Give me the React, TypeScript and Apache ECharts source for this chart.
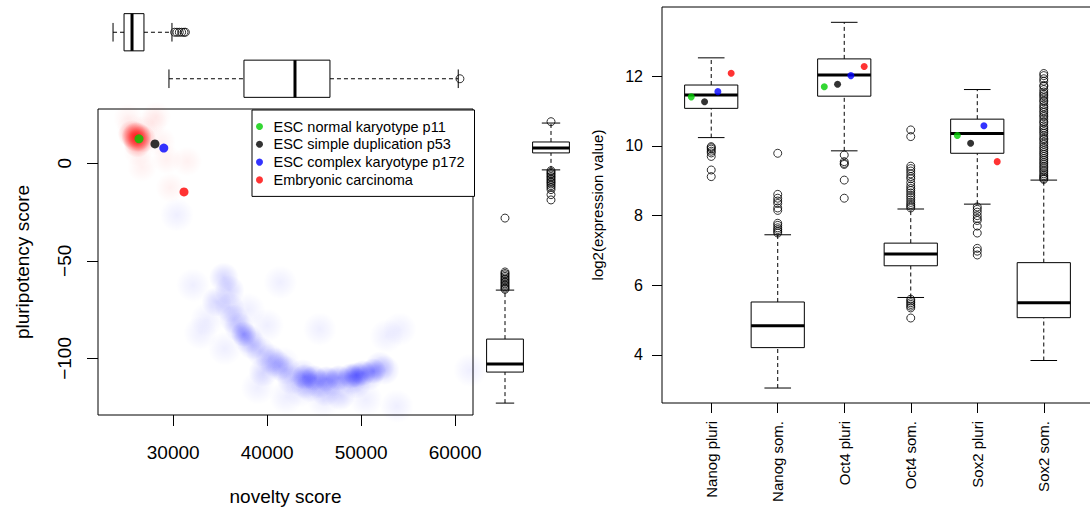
import React, { useEffect, useRef } from "react";
import * as echarts from "echarts";

const FONT = "'Liberation Sans', Arial, Helvetica, sans-serif";

// ---------- Left panel: samples ----------
const sampleNames = [
  "ESC normal karyotype p11",
  "ESC simple duplication p53",
  "ESC complex karyotype p172",
  "Embryonic carcinoma",
];
const sampleColors = ["#00cd00", "#000000", "#0000ff", "#ff0000"];
const sampleNovelty = [26360, 28060, 29000, 31150];
const samplePluri = [12.5, 9.9, 7.8, -14.7];

// density clouds (novelty, pluripotency)
const pluriCloudCore = [[26100, 13.5]];
const pluriCloudMid = [[25600, 15], [26700, 12.5], [26200, 10]];
const pluriCloudFaint = [
  [25500, 18], [26800, 17], [27800, 21], [26300, 6], [28700, 11], [29300, 2],
  [31500, 1], [26700, -2], [29700, -12.5], [25200, 23], [28200, 24],
];
const somaticCloudCore = [
  [44000, -109.5], [45000, -110], [46300, -110.5], [47600, -110], [48900, -109],
  [49500, -108.5], [50200, -107.5], [51300, -106.5], [37500, -87.5],
];
const somaticCloudMid = [
  [43800, -108], [42600, -111], [44600, -115], [46200, -117], [41300, -104],
  [40300, -100], [39300, -96.5], [38400, -93], [37000, -84], [39600, -107],
  [47800, -119], [44000, -113], [35400, -58.5], [36000, -65], [34600, -71],
  [36000, -74], [52000, -104], [49500, -113], [36500, -80], [38000, -90],
  [40800, -102], [42000, -106], [45500, -113], [47000, -112], [49000, -111],
  [50800, -109], [52500, -106],
];
const somaticCloudFaint = [
  [32100, -62.5], [32900, -87], [33600, -80], [41400, -61], [45600, -85],
  [54100, -85], [52700, -88.5], [61600, -106], [53800, -124.5], [46000, -121.5],
  [41700, -102.5], [43500, -116.5], [30400, -26.5], [38000, -75], [40000, -83],
  [35500, -95], [50500, -121], [42000, -120], [39000, -115],
];

// marginal box plots: [low, q1, median, q3, high]
const noveltyGroups = ["pluripotent", "somatic"];
const noveltyStats = [
  [23600, 24770, 25620, 26890, 29870],
  [29550, 37530, 42960, 46680, 60330],
];
const noveltyOutliersPluri = [30150, 30400, 30650, 30900, 31150, 31300];
const noveltyOutliersSomatic = [60510];

const pluriGroups = ["somatic", "pluripotent"];
const pluriStats = [
  [-122.9, -107, -102.9, -90.1, -65],
  [-3.4, 5.3, 7.8, 10.9, 20.6],
];
const pluriOutliersSomatic = [
  -28.1, -55.7, -56.5, -57.2, -58, -58.8, -59.5, -60.3, -61, -61.8, -62.5, -63.3, -64, -64.6,
];
const pluriOutliersPluri = [
  21.3, -3.8, -4.5, -5.3, -6, -6.8, -7.5, -8.3, -9.1, -9.8, -10.6, -11.5, -12.4, -13.5, -16.1, -18.8,
];

// ---------- Right panel ----------
const geneCategories = ["Nanog pluri", "Nanog som.", "Oct4 pluri", "Oct4 som.", "Sox2 pluri", "Sox2 som."];
const geneStats = [
  [10.24, 11.08, 11.46, 11.75, 12.53],
  [3.05, 4.21, 4.84, 5.52, 7.45],
  [9.86, 11.43, 12.04, 12.5, 13.55],
  [5.65, 6.56, 6.9, 7.21, 8.19],
  [8.33, 9.79, 10.36, 10.77, 11.62],
  [3.84, 5.07, 5.5, 6.65, 9.02],
];
const geneOutliers = [
  [9.98, 9.95, 9.91, 9.85, 9.8, 9.7, 9.31, 9.12],
  [9.79, 8.61, 8.5, 8.42, 8.35, 8.22, 8.15, 7.78, 7.72, 7.65, 7.6, 7.55, 7.5],
  [9.74, 9.55, 9.5, 9.47, 9.02, 8.5],
  [10.46, 10.27, 9.42, 9.35, 9.28, 9.2, 9.12, 9.06, 8.95, 8.85, 8.78, 8.72, 8.65, 8.58, 8.52,
    8.45, 8.38, 8.32, 8.27, 8.22, 5.6, 5.55, 5.5, 5.45, 5.4, 5.35, 5.06],
  [8.25, 8.18, 8.1, 8.0, 7.92, 7.86, 7.7, 7.5, 7.06, 6.98, 6.87],
  [12.08, 12.02, 11.93, 11.86, 11.74, 11.71, 11.62, 11.55, 11.49, 11.44, 11.38, 11.31, 11.27,
    11.19, 11.13, 11.08, 11.01, 10.96, 10.89, 10.84, 10.77, 10.7, 10.66, 10.58, 10.52, 10.47,
    10.41, 10.36, 10.29, 10.22, 10.18, 10.11, 10.05, 9.98, 9.93, 9.87, 9.81, 9.76, 9.7, 9.64,
    9.59, 9.53, 9.48, 9.42, 9.37, 9.31, 9.26, 9.2, 9.15, 9.11, 9.07, 9.04],
];
// sample expression in pluri categories (Nanog, Oct4, Sox2), one array per sample
const pluriCategoryIndex = [1, 3, 5];
const sampleExpr = [
  [11.41, 11.7, 10.3],
  [11.27, 11.77, 10.08],
  [11.56, 12.02, 10.58],
  [12.09, 12.28, 9.55],
];

const makeBoxRenderer = (horizontal: boolean) => (_params: any, api: any) => {
  const pos = api.value(0);
  const stats = [api.value(1), api.value(2), api.value(3), api.value(4), api.value(5)];
  const toPx = (v: number) => (horizontal ? api.coord([v, pos]) : api.coord([pos, v]));
  const band = horizontal ? api.size([0, 1])[1] : api.size([1, 0])[0];
  const half = band * 0.4;
  const cap = half * 0.5;
  const [lo, q1, md, q3, hi] = stats.map(toPx);
  const dash = { stroke: "#000", lineWidth: 1, lineDash: [4, 3] };
  const solid = { stroke: "#000", lineWidth: 1 };
  const line = (x1: number, y1: number, x2: number, y2: number, style: any) => ({
    type: "line",
    shape: { x1, y1, x2, y2 },
    style,
  });
  if (horizontal) {
    const c = lo[1];
    return {
      type: "group",
      children: [
        line(lo[0], c, q1[0], c, dash),
        line(q3[0], c, hi[0], c, dash),
        line(lo[0], c - cap, lo[0], c + cap, solid),
        line(hi[0], c - cap, hi[0], c + cap, solid),
        {
          type: "rect",
          shape: { x: q1[0], y: c - half, width: q3[0] - q1[0], height: 2 * half },
          style: { fill: "#fff", stroke: "#000", lineWidth: 1 },
        },
        line(md[0], c - half, md[0], c + half, { stroke: "#000", lineWidth: 3 }),
      ],
    };
  }
  const c = lo[0];
  return {
    type: "group",
    children: [
      line(c, lo[1], c, q1[1], dash),
      line(c, q3[1], c, hi[1], dash),
      line(c - cap, lo[1], c + cap, lo[1], solid),
      line(c - cap, hi[1], c + cap, hi[1], solid),
      {
        type: "rect",
        shape: { x: c - half, y: q3[1], width: 2 * half, height: q1[1] - q3[1] },
        style: { fill: "#fff", stroke: "#000", lineWidth: 1 },
      },
      line(c - half, md[1], c + half, md[1], { stroke: "#000", lineWidth: 3 }),
    ],
  };
};

const radial = (r: number, g: number, b: number, a: number) => ({
  type: "radial",
  x: 0.5,
  y: 0.5,
  r: 0.5,
  colorStops: [
    { offset: 0, color: `rgba(${r},${g},${b},${a})` },
    { offset: 0.45, color: `rgba(${r},${g},${b},${a * 0.6})` },
    { offset: 1, color: `rgba(${r},${g},${b},0)` },
  ],
});

const openCircle = {
  symbol: "circle",
  symbolSize: 8,
  itemStyle: { color: "rgba(0,0,0,0)", borderColor: "#000", borderWidth: 1 },
  silent: true,
};

const minus = (v: number) => (v < 0 ? "\u2212" + Math.abs(v) : String(v));
const plain = (v: number) => String(v);

function buildOption(): any {
  const txt = { fontFamily: FONT, color: "#000" };
  const cloud = (data: number[][], color: any, size: number) => ({
    type: "scatter",
    xAxisIndex: 0,
    yAxisIndex: 0,
    data,
    symbol: "circle",
    symbolSize: size,
    itemStyle: { color },
    silent: true,
    z: 1,
  });

  const series: any[] = [
    cloud(somaticCloudFaint, radial(0, 0, 255, 0.08), 34),
    cloud(somaticCloudMid, radial(0, 0, 255, 0.2), 30),
    cloud(somaticCloudCore, radial(0, 0, 255, 0.42), 26),
    cloud(pluriCloudFaint, radial(255, 0, 0, 0.07), 30),
    cloud(pluriCloudMid, radial(255, 0, 0, 0.45), 28),
    cloud(pluriCloudCore, radial(255, 0, 0, 1), 30),
  ];

  sampleNames.forEach((name, i) => {
    series.push({
      type: "scatter",
      name,
      xAxisIndex: 0,
      yAxisIndex: 0,
      data: [[sampleNovelty[i], samplePluri[i]]],
      symbol: "circle",
      symbolSize: 9,
      itemStyle: { color: sampleColors[i] },
      z: 5,
    });
  });

  // top marginal boxes (novelty)
  series.push({
    type: "custom",
    xAxisIndex: 1,
    yAxisIndex: 1,
    renderItem: makeBoxRenderer(true),
    data: noveltyStats.map((s, i) => [i, ...s]),
    silent: true,
  });
  series.push({
    type: "scatter",
    xAxisIndex: 1,
    yAxisIndex: 1,
    data: [
      ...noveltyOutliersPluri.map((v) => [v, 0]),
      ...noveltyOutliersSomatic.map((v) => [v, 1]),
    ],
    ...openCircle,
  });

  // right marginal boxes (pluripotency)
  series.push({
    type: "custom",
    xAxisIndex: 2,
    yAxisIndex: 2,
    renderItem: makeBoxRenderer(false),
    data: pluriStats.map((s, i) => [i, ...s]),
    silent: true,
  });
  series.push({
    type: "scatter",
    xAxisIndex: 2,
    yAxisIndex: 2,
    data: [
      ...pluriOutliersSomatic.map((v) => [0, v]),
      ...pluriOutliersPluri.map((v) => [1, v]),
    ],
    ...openCircle,
  });

  // right panel boxes
  series.push({
    type: "custom",
    xAxisIndex: 3,
    yAxisIndex: 3,
    renderItem: makeBoxRenderer(false),
    data: geneStats.map((s, i) => [i + 1, ...s]),
    silent: true,
  });
  const outlierData: number[][] = [];
  geneOutliers.forEach((arr, i) => arr.forEach((v) => outlierData.push([i + 1, v])));
  series.push({
    type: "scatter",
    xAxisIndex: 3,
    yAxisIndex: 3,
    data: outlierData,
    ...openCircle,
  });
  const jitter = [-0.3, -0.1, 0.1, 0.3];
  sampleNames.forEach((name, i) => {
    series.push({
      type: "scatter",
      name,
      xAxisIndex: 3,
      yAxisIndex: 3,
      data: sampleExpr[i].map((v, k) => [pluriCategoryIndex[k] + jitter[i], v]),
      symbol: "circle",
      symbolSize: 7,
      itemStyle: { color: sampleColors[i] },
      z: 5,
    });
  });

  const noLine = { show: false, onZero: false };
  const gridBase = { outerBoundsMode: "none", containLabel: false };

  return {
    animation: false,
    backgroundColor: "#fff",
    textStyle: { fontFamily: FONT },
    grid: [
      { ...gridBase, left: 98, top: 109, width: 375, height: 306, show: true, borderColor: "#000", borderWidth: 1, backgroundColor: "transparent" },
      { ...gridBase, left: 98, top: 9, width: 375, height: 93 },
      { ...gridBase, left: 482, top: 109, width: 92, height: 306 },
      { ...gridBase, left: 662, top: 7, width: 431, height: 396, show: true, borderColor: "#000", borderWidth: 1, backgroundColor: "transparent" },
    ],
    xAxis: [
      {
        gridIndex: 0,
        type: "value",
        min: 22000,
        max: 61900,
        axisLine: noLine,
        splitLine: { show: false },
        axisTick: { show: true, length: 11, lineStyle: { color: "#000" }, customValues: [30000, 40000, 50000, 60000] },
        axisLabel: { ...txt, fontSize: 19, margin: 28, customValues: [30000, 40000, 50000, 60000], formatter: plain },
        name: "novelty score",
        nameLocation: "middle",
        nameGap: 72,
        nameTextStyle: { ...txt, fontSize: 19 },
      },
      { gridIndex: 1, type: "value", min: 22000, max: 61900, show: false, axisLine: noLine },
      { gridIndex: 2, type: "category", data: pluriGroups, show: false, axisLine: noLine },
      {
        gridIndex: 3,
        type: "value",
        min: 0.26,
        max: 6.74,
        axisLine: noLine,
        splitLine: { show: false },
        axisTick: { show: true, length: 10, lineStyle: { color: "#000" }, customValues: [1, 2, 3, 4, 5, 6] },
        axisLabel: {
          ...txt,
          fontSize: 15,
          rotate: 90,
          margin: 18,
          customValues: [1, 2, 3, 4, 5, 6],
          formatter: (v: number) => geneCategories[Math.round(v) - 1] ?? "",
        },
      },
    ],
    yAxis: [
      {
        gridIndex: 0,
        type: "value",
        min: -129,
        max: 27.8,
        axisLine: noLine,
        splitLine: { show: false },
        axisTick: { show: true, length: 11, lineStyle: { color: "#000" }, customValues: [-100, -50, 0] },
        axisLabel: { ...txt, fontSize: 19, rotate: 90, margin: 24, customValues: [-100, -50, 0], formatter: minus },
        name: "pluripotency score",
        nameLocation: "middle",
        nameGap: 66,
        nameTextStyle: { ...txt, fontSize: 19 },
      },
      { gridIndex: 1, type: "category", data: noveltyGroups, inverse: true, show: false, axisLine: noLine },
      { gridIndex: 2, type: "value", min: -129, max: 27.8, show: false, axisLine: noLine },
      {
        gridIndex: 3,
        type: "value",
        min: 2.62,
        max: 13.99,
        axisLine: noLine,
        splitLine: { show: false },
        axisTick: { show: true, length: 10, lineStyle: { color: "#000" }, customValues: [4, 6, 8, 10, 12] },
        axisLabel: { ...txt, fontSize: 16, margin: 19, customValues: [4, 6, 8, 10, 12] },
        name: "log2(expression value)",
        nameLocation: "middle",
        nameGap: 57,
        nameTextStyle: { ...txt, fontSize: 15 },
      },
    ],
    legend: {
      left: 252,
      top: 110,
      orient: "vertical",
      data: sampleNames.map((n) => ({ name: n, icon: "circle" })),
      itemWidth: 18,
      itemHeight: 7,
      itemGap: 2.8,
      padding: [9, 10, 9, 4],
      borderColor: "#000",
      borderWidth: 1,
      borderRadius: 0,
      backgroundColor: "#fff",
      selectedMode: false,
      textStyle: { ...txt, fontSize: 14.5, lineHeight: 14 },
    },
    series,
  };
}

export default function App() {
  const ref = useRef<HTMLDivElement>(null);
  useEffect(() => {
    document.body.style.margin = "0";
    const chart = echarts.init(ref.current!, null, { renderer: "svg" });
    chart.setOption(buildOption());
    return () => chart.dispose();
  }, []);
  return <div ref={ref} style={{ width: 1090, height: 507, background: "#fff" }} />;
}
